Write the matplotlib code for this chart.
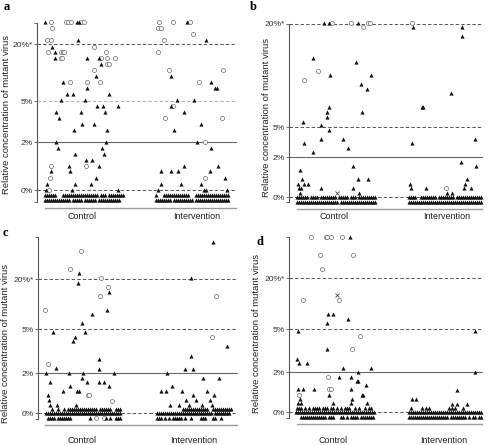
#!/usr/bin/env python3
import numpy as np
import matplotlib
matplotlib.use("Agg")
import matplotlib.pyplot as plt
from matplotlib.ticker import NullFormatter

plt.rcParams["font.family"] = ["Liberation Sans", "DejaVu Sans"]

W, H = 489, 445

# ------------------------------------------------------------------
# Data
# ------------------------------------------------------------------
tick_pct = [0, 2, 5, 20]
tick_labels = ["0%", "2%", "5%", "20%*"]
groups = ["Control", "Intervention"]

# height (px above the 0% line) of the 0/2/5/20 % lines in each panel
a_knots = [0, 48, 89, 146]
b_knots = [0, 40, 70.3, 173.3]
c_knots = [0, 40, 83.7, 133.7]
d_knots = [0, 40, 83, 134]

a_centres = [82, 197]
b_centres = [334, 446.7]
c_centres = [82.3, 194]
d_centres = [333.3, 444]

# (x position, relative concentration %, marker) t=triangle o=circle x=cross
a_points = [
    (45, 25.9, "t"), (51, 25.9, "o"), (65.7, 25.9, "o"), (68.3, 25.9, "o"), (71, 25.9, "o"),
    (76.7, 25.9, "t"), (78.7, 25.9, "t"), (80.7, 25.9, "o"), (84.3, 25.9, "o"),
    (52.3, 24.1, "o"),
    (47.3, 21.1, "o"), (50.7, 21.1, "o"), (78.3, 21.1, "t"),
    (52.3, 19.3, "t"), (94.3, 19.3, "o"),
    (48.3, 17.8, "o"), (55, 17.8, "t"), (60.7, 17.8, "o"), (62.7, 17.8, "o"), (64.3, 17.8, "o"),
    (105.7, 17.8, "o"),
    (55, 16.2, "t"), (60.7, 16.2, "o"), (62, 16.2, "o"), (86.7, 16.2, "t"), (99, 16.2, "t"),
    (101.3, 16.2, "o"), (106.7, 16.2, "o"), (115, 16.2, "o"),
    (101, 14.7, "t"), (107.3, 14.7, "o"), (109, 14.7, "o"),
    (94.3, 13.2, "o"), (95.7, 11.6, "t"),
    (63.3, 10.0, "t"), (70, 10.0, "o"), (87.3, 10.0, "o"), (100, 10.0, "o"),
    (87.3, 8.4, "t"),
    (67.3, 6.8, "t"), (72.7, 6.8, "t"), (109, 6.8, "t"),
    (60.7, 5.2, "t"), (85, 5.2, "t"),
    (96.7, 4.66, "t"), (102.7, 4.66, "t"), (118.3, 4.66, "t"),
    (56, 4.2, "t"), (81, 4.2, "t"), (105, 4.2, "t"),
    (59, 3.78, "t"), (81.7, 3.34, "t"), (94.3, 3.34, "t"),
    (74.3, 2.88, "t"), (106.7, 2.88, "t"),
    (56, 2.0, "t"), (106, 2.0, "t"),
    (58.3, 1.76, "t"), (102.3, 1.76, "t"),
    (75, 1.51, "t"), (104, 1.51, "t"),
    (86, 1.26, "t"), (91.7, 1.26, "t"),
    (50.7, 1.01, "o"), (69.3, 1.01, "t"), (85.7, 1.01, "o"), (99, 1.01, "t"),
    (50.7, 0.78, "t"), (70, 0.78, "t"),
    (50, 0.51, "o"), (96, 0.51, "t"),
    (47.3, 0.25, "t"), (75, 0.25, "t"), (90.7, 0.25, "t"),
    (46, 0, "t"), (48.7, 0, "o"), (71.7, 0, "t"), (118.3, 0, "t"),
    # intervention
    (159.3, 25.9, "o"), (173.3, 25.9, "o"), (187.3, 25.9, "t"), (190, 25.9, "o"),
    (157.7, 24.1, "o"), (160.7, 24.1, "o"), (193.3, 22.6, "o"),
    (164.3, 21.1, "o"), (205.7, 21.1, "t"),
    (158.3, 17.8, "o"),
    (169.3, 13.2, "o"), (222.7, 13.2, "o"), (170.7, 11.6, "t"),
    (199, 10.0, "o"), (210.7, 10.0, "t"),
    (215, 8.4, "t"), (217.3, 8.4, "t"),
    (177.3, 5.2, "t"), (194, 5.2, "t"),
    (170.7, 4.66, "t"), (173.3, 4.66, "o"), (184, 4.2, "t"),
    (165, 3.72, "o"), (222.3, 3.72, "o"), (200.7, 3.34, "t"), (174.3, 2.88, "t"),
    (197.3, 2.0, "t"), (205, 2.0, "o"), (211, 1.76, "t"),
    (184, 1.01, "t"), (218.3, 1.01, "t"),
    (160.7, 0.78, "t"), (171, 0.78, "t"), (178.3, 0.78, "t"), (210, 0.78, "t"),
    (205, 0.51, "o"), (225, 0.51, "t"),
    (160.7, 0.25, "t"), (181, 0.25, "t"), (201, 0.25, "t"),
    (157.7, 0, "t"), (204, 0, "t"), (206, 0, "t"), (226.7, 0, "t"),
]

b_points = [
    (324.3, 20.2, "t"), (329.3, 20.2, "t"), (331.7, 20.2, "o"), (350.7, 20.2, "o"),
    (357.7, 20.2, "t"), (368.3, 20.2, "o"), (370, 20.2, "o"), (362.7, 19.5, "o"),
    (313.3, 15.0, "t"), (356, 14.4, "t"), (317.7, 13.1, "o"),
    (330, 12.5, "t"), (370.7, 12.5, "t"),
    (304.3, 11.8, "o"), (360.7, 11.2, "t"), (366.7, 10.5, "t"),
    (329.3, 7.9, "t"), (326.7, 7.2, "t"), (361.7, 7.2, "t"), (327, 6.5, "t"),
    (303.3, 5.8, "t"), (321, 5.25, "t"), (329, 4.7, "t"),
    (320.7, 3.8, "t"), (343.3, 3.8, "t"), (304.3, 3.4, "t"), (348.3, 2.9, "t"), (312.7, 2.5, "t"),
    (353.3, 1.57, "t"), (300, 1.35, "t"),
    (302, 0.9, "t"), (358.3, 0.9, "t"), (367.7, 0.9, "t"),
    (298.3, 0.67, "t"), (304, 0.67, "t"), (308.3, 0.67, "t"),
    (299.3, 0.45, "t"), (300.7, 0.45, "t"), (321, 0.45, "t"), (352.7, 0.45, "t"),
    (300, 0.23, "t"), (359, 0.23, "t"), (337.3, 0.2, "x"),
    # intervention
    (412.3, 20.2, "o"), (413.3, 19.5, "t"), (462.3, 19.5, "t"), (462.3, 18.3, "t"),
    (451, 10.0, "t"), (421.7, 7.9, "t"), (423.3, 7.9, "t"),
    (475, 3.8, "t"), (412.3, 3.4, "t"),
    (460.7, 1.78, "t"), (476, 1.57, "t"), (466.7, 0.9, "t"),
    (410, 0.65, "t"), (465, 0.65, "t"),
    (410.7, 0.45, "t"), (425.7, 0.45, "t"), (445.7, 0.45, "o"), (464.3, 0.45, "t"), (470.7, 0.45, "t"),
    (446.7, 0.23, "t"), (451.7, 0.23, "t"),
]

c_points = [
    (81, 28.5, "o"), (70, 23.1, "o"), (79, 21.9, "t"), (100.7, 20.4, "o"), (78.3, 19.0, "t"),
    (107.7, 17.7, "o"), (109.3, 16.2, "t"), (100, 15.0, "o"),
    (45, 10.9, "o"), (107.3, 10.9, "t"), (92.3, 9.5, "t"), (81.7, 7.0, "t"),
    (52.7, 4.8, "t"), (85.3, 4.8, "t"), (75, 4.47, "t"), (72.7, 4.17, "t"),
    (99.3, 2.94, "t"), (48.3, 2.6, "o"), (56, 2.34, "t"), (99, 2.3, "t"),
    (46, 2.0, "t"), (69.3, 2.0, "t"), (83.3, 2.0, "t"), (114.3, 2.0, "t"),
    (82.3, 1.77, "t"),
    (50, 1.55, "t"), (87.3, 1.55, "t"), (99.3, 1.55, "t"), (104, 1.55, "t"),
    (70, 1.33, "t"), (109.3, 1.33, "t"),
    (63.3, 1.1, "t"), (77.3, 1.1, "t"), (79.3, 1.1, "t"),
    (48.3, 0.88, "t"), (87.7, 0.88, "o"), (89, 0.88, "o"),
    (49, 0.67, "t"), (111.7, 0.62, "o"),
    (50, 0.42, "t"), (57.3, 0.42, "t"), (76, 0.42, "t"),
    # intervention
    (213.3, 31.2, "t"), (190.7, 20.5, "t"), (216, 15.0, "o"), (212.3, 4.47, "o"), (226.7, 3.87, "t"),
    (191, 3.2, "t"), (185, 2.3, "t"), (192.7, 2.3, "t"), (167.3, 2.0, "t"),
    (202.7, 1.77, "t"), (219, 1.77, "t"), (171.7, 1.33, "t"),
    (161, 1.1, "t"), (165.7, 1.1, "t"), (181.7, 1.1, "t"), (206.7, 1.1, "t"),
    (193.3, 0.88, "t"), (213.7, 0.88, "t"),
    (186, 0.63, "t"), (196, 0.63, "t"), (210, 0.63, "t"),
    (170, 0.42, "t"), (179.3, 0.42, "t"), (189.3, 0.42, "t"), (202.3, 0.42, "t"), (212.3, 0.42, "t"),
]

d_points = [
    (310.7, 32.1, "o"), (326, 32.1, "o"), (327.3, 32.1, "o"), (331, 32.1, "o"), (342.3, 32.1, "o"),
    (350, 32.1, "t"),
    (320, 26.8, "o"), (352.7, 26.8, "o"), (321.7, 22.8, "o"),
    (337.3, 15.0, "x"), (302.7, 13.5, "o"), (339, 13.5, "o"),
    (328.3, 9.6, "t"), (332.7, 9.6, "t"), (347.7, 8.1, "t"), (326.7, 6.9, "t"),
    (297.7, 4.86, "t"), (360, 4.51, "o"), (326.7, 3.6, "t"), (352.3, 3.6, "o"),
    (296.7, 2.95, "t"), (299, 2.65, "t"), (307.3, 2.65, "t"),
    (343.3, 2.32, "t"), (371, 2.32, "t"), (357.7, 2.0, "t"),
    (328.3, 1.77, "o"), (339.3, 1.77, "t"), (351, 1.77, "t"),
    (356.7, 1.55, "t"), (358.3, 1.55, "t"), (366, 1.35, "t"),
    (298.3, 1.15, "t"), (303.3, 1.15, "t"), (314.3, 1.15, "t"), (329, 1.15, "o"), (330.7, 1.15, "o"),
    (351, 1.15, "t"),
    (299.3, 0.88, "o"), (329.3, 0.88, "t"), (361.7, 0.88, "t"), (363.3, 0.88, "t"),
    (300, 0.68, "t"), (351.7, 0.68, "t"),
    (298.3, 0.48, "t"), (300.7, 0.48, "t"), (333.3, 0.48, "t"), (350.7, 0.48, "t"), (367.3, 0.48, "t"),
    # intervention
    (475, 4.86, "t"), (475, 2.0, "t"), (457.3, 1.13, "t"),
    (412.3, 0.68, "t"), (416, 0.68, "t"),
    (451.7, 0.43, "t"), (457.3, 0.43, "t"), (466.7, 0.43, "t"),
    (411, 0.23, "t"), (422.3, 0.23, "t"), (425.7, 0.23, "t"), (429, 0.23, "t"),
    (449.3, 0.23, "t"), (451.7, 0.23, "t"), (455, 0.23, "t"), (463.3, 0.23, "t"),
]

# dense baseline rows: (value %, first x, pattern); one char per 2 px, ^=triangle o=circle
a_rows = [
    (-0.22, 45, "^^^^^^   ^^^^^^^^^^^^^^^^^^ ^^^ ^^^^^^^^"),
    (-0.43, 45, "^^^^^^^^^^^^^ ^^^^^ ^^^^^^ ^^^^^^^^^^^"),
    (-0.22, 156, "^   ^^^^^^^^^^^^^   ^^^^^^^^^^^^^^^^^"),
    (-0.43, 156, "^^^^^^^^ ^^^^^^^^^^ ^^^^^^^^^^^^^^^^^"),
]
b_rows = [
    (0, 297, "^^^^^^ ^^^^ ^^^^^^^^ ^^^^^ ^^^ ^^^^^^^^^"),
    (-0.22, 297, "^^^^^^^^^^^^^^^^^^^^^ ^^^^^^^^^^^^^^^^^^"),
    (0, 409, "^^^^  ^^^^^^^^ ^^^^^^^^ ^^^^^^^^^^^^^"),
    (-0.22, 409, "^^^^^^^^^^^^^^^^^^^^^^^^^^^^^^^^^^^^^"),
]
c_rows = [
    (0.22, 46, "   ^  ^  ^ ^^^^^^^^^^^^^^^ ^^^^^^  ^^^"),
    (0, 46, "^^^^^^^^^^^^^^^^^^^^^^^^^^^^^^^^^^^^^^"),
    (-0.27, 46, " ^^^^ ^^^^^^^         ^  o   o^ ^  ^^^"),
    (0.22, 157, "             ^^^^^^^^^^^^^  ^^^^^^^^^^"),
    (0, 157, "^^^^^^^^^^^^^^^^^^^^^^^^^^^^ ^^^^^^^^"),
    (-0.27, 157, "^^^ ^ ^ ^^^^^ ^  ^    ^^^   ^^  ^"),
]
d_rows = [
    (0.23, 297, "^^^ ^ ^ ^^^^ ^^^ ^^ ^ ^ ^^^  ^ ^  ^ ^^"),
    (0, 296, "^^^^^^^^^^^^^^^^^^^^^^^^^^^^^^^^^^^^^^^^"),
    (-0.22, 297, "  ^^^^^^^^^^^^^ ^^^   ^^ ^ ^^^^ ^^^^^^^"),
    (0, 409, "^^^^^^^^^^^^^^^^^^^^^^^^^^^^^^^^^^^^^"),
    (-0.22, 409, "^^^^^^^^^^^^^^^^^^^^ ^^^^^^^^ ^ ^^ ^^"),
]

# ------------------------------------------------------------------
# Layout (figure pixels)
# ------------------------------------------------------------------
panels = [
    dict(name="a", knots=a_knots, pts=a_points, rows=a_rows, centres=a_centres,
         box=(37.3, 236.3, 22.7, 208.0), zero=190.0, spine_lo=202.0, line_x0=45.0,
         pad=3.0, letter=(4, 7.5), ylab=(7, 114), c5="#b0b0b0"),
    dict(name="b", knots=b_knots, pts=b_points, rows=b_rows, centres=b_centres,
         box=(289.3, 482.3, 24.0, 208.7), zero=197.3, spine_lo=202.3, line_x0=296.7,
         pad=2.7, letter=(250, 7.5), ylab=(266.5, 117), c5="#555555"),
    dict(name="c", knots=c_knots, pts=c_points, rows=c_rows, centres=c_centres,
         box=(38.5, 237.0, 236.7, 424.7), zero=413.0, spine_lo=419.0, line_x0=45.0,
         pad=8.3, letter=(3, 233), ylab=(6, 343), c5="#555555"),
    dict(name="d", knots=d_knots, pts=d_points, rows=d_rows, centres=d_centres,
         box=(289.3, 482.0, 236.5, 424.2), zero=412.3, spine_lo=418.0, line_x0=297.0,
         pad=8.5, letter=(257, 242), ylab=(257, 333), c5="#555555"),
]


def scale_funcs(knots):
    below = knots[1] / 2.0
    above = (knots[3] - knots[2]) / 15.0
    p = np.array([-20.0, 0, 2, 5, 20, 200])
    h = np.array([-20 * below, knots[0], knots[1], knots[2], knots[3],
                  knots[3] + 180 * above])
    return (lambda v: np.interp(v, p, h)), (lambda v: np.interp(v, h, p))


fig = plt.figure(figsize=(W / 100, H / 100), dpi=100)

for pn in panels:
    l, r, t, b = pn["box"]
    ax = fig.add_axes([l / W, 1 - b / H, (r - l) / W, (b - t) / H])
    ax.patch.set_alpha(0)
    fwd, inv = scale_funcs(pn["knots"])
    ax.set_yscale("function", functions=(fwd, inv))
    ax.set_xlim(l, r)
    ax.set_ylim(float(inv(pn["zero"] - b)), float(inv(pn["zero"] - t)))

    for s in ["top", "right"]:
        ax.spines[s].set_visible(False)
    lo, hi = float(inv(pn["zero"] - pn["spine_lo"])), float(inv(pn["zero"] - t))
    ax.spines["left"].set_bounds(lo, hi)
    ax.spines["left"].set_color("#555555")
    ax.spines["left"].set_linewidth(0.8)
    ax.spines["bottom"].set_bounds(pn["line_x0"], r)
    ax.spines["bottom"].set_color("#9a9a9a")
    ax.spines["bottom"].set_linewidth(1.0)

    ax.set_yticks(tick_pct, tick_labels)
    ax.set_yticks([lo, hi], minor=True)
    ax.yaxis.set_minor_formatter(NullFormatter())
    ax.tick_params(axis="y", which="both", length=2.2, width=0.6, color="#555555",
                   pad=1.2, labelsize=6.1, labelcolor="#333333")
    ax.set_xticks(pn["centres"], groups)
    ax.tick_params(axis="x", length=0, pad=pn["pad"], labelsize=6.5, labelcolor="#222222")

    # reference lines
    ax.axhline(0, color="#555555", lw=0.7, dashes=(3.5, 2.2), clip_on=False, zorder=1)
    ax.axhline(2, color="#666666", lw=0.8, clip_on=False, zorder=1)
    ax.axhline(5, color=pn["c5"], lw=0.7, dashes=(3.5, 2.2), clip_on=False, zorder=1)
    ax.axhline(20, color="#555555", lw=0.7, dashes=(3.5, 2.2), clip_on=False, zorder=1)

    tx, ty, ox, oy, xx, xy = [], [], [], [], [], []
    for x, y, m in pn["pts"]:
        if m == "t":
            tx.append(x); ty.append(y)
        elif m == "o":
            ox.append(x); oy.append(y)
        else:
            xx.append(x); xy.append(y)
    for y, x0, pat in pn["rows"]:
        for k, ch in enumerate(pat):
            if ch == "^":
                tx.append(x0 + 2 * k); ty.append(y)
            elif ch == "o":
                ox.append(x0 + 2 * k); oy.append(y)

    ax.plot(ox, oy, ls="none", marker="o", ms=2.9, mfc="white", mec="#666666",
            mew=0.5, clip_on=False, zorder=3)
    ax.plot(tx, ty, ls="none", marker="^", ms=3.0, color="#111111", mew=0,
            clip_on=False, zorder=4)
    ax.plot(xx, xy, ls="none", marker="x", ms=3.0, color="#444444", mew=0.6,
            clip_on=False, zorder=4)

    fig.text(pn["letter"][0] / W, 1 - pn["letter"][1] / H, pn["name"], fontsize=9,
             fontweight="bold", family="Liberation Serif", ha="left", va="center")
    fig.text(pn["ylab"][0] / W, 1 - pn["ylab"][1] / H,
             "Relative concentration of mutant virus", rotation=90, ha="center",
             va="center", fontsize=6.8, color="#222222")

fig.savefig("out.png", dpi=100)
